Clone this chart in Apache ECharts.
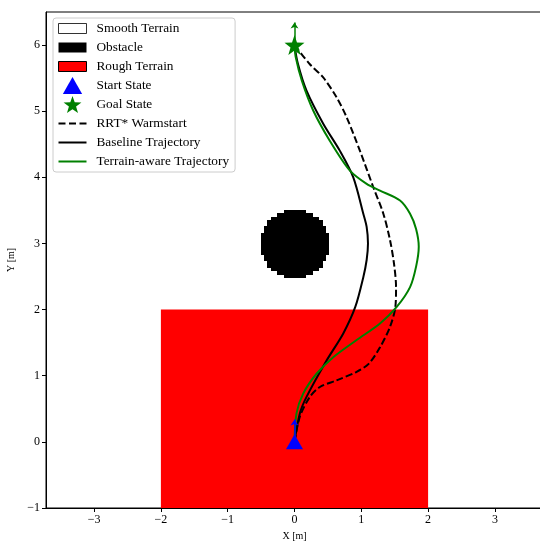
<!DOCTYPE html>
<html>
<head>
<meta charset="utf-8">
<script src="https://cdn.jsdelivr.net/npm/echarts@6/dist/echarts.min.js"></script>
<style>
  html, body { margin: 0; padding: 0; background: #fff; }
  #chart { width: 540px; height: 542px; }
</style>
</head>
<body>
<div id="chart"></div>
<script>
// axis ticks
var xTicks = [-3, -2, -1, 0, 1, 2, 3];
var yTicks = [-1, 0, 1, 2, 3, 4, 5, 6];

// map elements
var roughTerrain = [-2, -1, 2, 2]; // xmin, ymin, xmax, ymax
var obstacleCenter = [0, 3];
var obstacleRadius = 0.5;
var gridRes = 0.05;
var startState = [0, 0];
var goalState = [0, 6];
var headingLen = 0.34;

// trajectories
var rrtX = [0, 0.08, 0.23, 0.38, 0.63, 0.93, 1.11, 1.28, 1.43, 1.51, 1.52, 1.49, 1.43, 1.33, 1.18, 0.98, 0.78, 0.63, 0.43, 0.23, 0];
var rrtY = [0, 0.38, 0.68, 0.83, 0.93, 1.06, 1.18, 1.43, 1.74, 2.04, 2.34, 2.69, 3.05, 3.45, 3.85, 4.40, 4.91, 5.21, 5.51, 5.71, 6.0];
var baseX = [0, 0.08, 0.18, 0.48, 0.73, 0.91, 1.03, 1.08, 1.10, 1.08, 1.03, 0.88, 0.68, 0.43, 0.18, 0.05, 0];
var baseY = [0, 0.43, 0.68, 1.23, 1.64, 2.04, 2.49, 2.75, 3.0, 3.25, 3.45, 4.0, 4.40, 4.81, 5.31, 5.72, 6.0];
var terrX = [0, 0.03, 0.13, 0.33, 0.58, 0.93, 1.28, 1.53, 1.73, 1.82, 1.86, 1.82, 1.73, 1.58, 1.28, 1.08, 0.83, 0.53, 0.28, 0.11, 0.02, 0];
var terrY = [0, 0.43, 0.73, 1.03, 1.28, 1.54, 1.79, 2.04, 2.34, 2.65, 2.95, 3.22, 3.45, 3.65, 3.80, 3.90, 4.10, 4.55, 5.01, 5.46, 5.81, 6.0];

function zip(xs, ys) {
  return xs.map(function (x, i) { return [x, ys[i]]; });
}

// occupancy cells of the round obstacle
var obstacleCells = [];
var n = Math.ceil(obstacleRadius / gridRes);
for (var i = -n; i < n; i++) {
  for (var j = -n; j < n; j++) {
    var cx = (i + 0.5) * gridRes, cy = (j + 0.5) * gridRes;
    if (cx * cx + cy * cy <= obstacleRadius * obstacleRadius) {
      obstacleCells.push([obstacleCenter[0] + i * gridRes, obstacleCenter[1] + j * gridRes]);
    }
  }
}

var serif = 'Liberation Serif';
var star = 'path://M0,-10L2.35,-3.24L9.51,-3.09L3.8,1.24L5.88,8.09L0,4L-5.88,8.09L-3.8,1.24L-9.51,-3.09L-2.35,-3.24Z';
var tri = 'path://M0,0L8.5,-15L17,0Z';
var box = 'path://M0,0h28v10h-28z';
var solid = 'path://M0,0h28v2h-28z';
var dashed = 'path://M0,0h7v2h-7zM10.5,0h7v2h-7zM21,0h7v2h-7z';
var minus = function (v) { return String(v).replace('-', '\u2212'); };

var chart = echarts.init(document.getElementById('chart'), null, { renderer: 'canvas' });
chart.setOption({
  animation: false,
  backgroundColor: '#fff',
  grid: {
    left: 46, top: 12, right: -3, bottom: 34,
    containLabel: false, outerBoundsMode: 'none',
    show: true, borderColor: '#000', borderWidth: 1
  },
  xAxis: {
    type: 'value', min: -3.72, max: 3.72,
    name: 'X [m]', nameLocation: 'middle', nameGap: 23,
    nameTextStyle: { fontFamily: serif, fontSize: 10, color: '#000' },
    axisLine: { onZero: false, lineStyle: { color: '#000' } },
    axisTick: { show: true, inside: false, length: 4, customValues: xTicks, lineStyle: { color: '#000' } },
    axisLabel: { customValues: xTicks, formatter: minus, fontFamily: serif, fontSize: 12, color: '#000', margin: 6 },
    splitLine: { show: false }
  },
  yAxis: {
    type: 'value', min: -1, max: 6.5,
    name: 'Y [m]', nameLocation: 'middle', nameGap: 27,
    nameTextStyle: { fontFamily: serif, fontSize: 10, color: '#000' },
    axisLine: { show: true, onZero: false, lineStyle: { color: '#000' } },
    axisTick: { show: true, inside: false, length: 4, customValues: yTicks, lineStyle: { color: '#000' } },
    axisLabel: { customValues: yTicks, formatter: minus, fontFamily: serif, fontSize: 12, color: '#000', margin: 6 },
    splitLine: { show: false }
  },
  legend: {
    orient: 'vertical', left: 53, top: 18,
    itemWidth: 28, itemHeight: 17, itemGap: 2,
    padding: [2, 6, 2, 5],
    borderColor: '#ccc', borderWidth: 1, borderRadius: 3,
    backgroundColor: 'rgba(255,255,255,0.8)',
    textStyle: { fontFamily: serif, fontSize: 13.3, lineHeight: 17, color: '#000', padding: [0, 0, 0, 5] },
    data: [
      { name: 'Smooth Terrain', icon: box, itemStyle: { color: '#fff', borderColor: '#000', borderWidth: 1 } },
      { name: 'Obstacle', icon: box, itemStyle: { color: '#000' } },
      { name: 'Rough Terrain', icon: box, itemStyle: { color: '#f00', borderColor: '#000', borderWidth: 1 } },
      { name: 'Start State', icon: tri, itemStyle: { color: '#00f' } },
      { name: 'Goal State', icon: star, itemStyle: { color: '#008000' } },
      { name: 'RRT* Warmstart', icon: dashed, itemStyle: { color: '#000' } },
      { name: 'Baseline Trajectory', icon: solid, itemStyle: { color: '#000' } },
      { name: 'Terrain-aware Trajectory', icon: solid, itemStyle: { color: '#008000' } }
    ]
  },
  series: [
    { name: 'Smooth Terrain', type: 'scatter', data: [] },
    {
      name: 'Rough Terrain', type: 'custom', z: 1,
      itemStyle: { color: '#f00' },
      data: [roughTerrain],
      renderItem: function (params, api) {
        var p0 = api.coord([api.value(0), api.value(3)]);
        var p1 = api.coord([api.value(2), api.value(1)]);
        return {
          type: 'rect',
          shape: { x: p0[0], y: p0[1], width: p1[0] - p0[0], height: p1[1] - p0[1] },
          style: { fill: '#f00' }
        };
      },
      clip: true
    },
    {
      name: 'Obstacle', type: 'custom', z: 2,
      itemStyle: { color: '#000' },
      data: obstacleCells,
      renderItem: function (params, api) {
        var p0 = api.coord([api.value(0), api.value(1) + gridRes]);
        var p1 = api.coord([api.value(0) + gridRes, api.value(1)]);
        var x = Math.floor(p0[0]), y = Math.floor(p0[1]);
        return {
          type: 'rect',
          shape: { x: x, y: y, width: Math.ceil(p1[0]) - x + 1, height: Math.ceil(p1[1]) - y + 1 },
          style: { fill: '#000' }
        };
      }
    },
    {
      name: 'RRT* Warmstart', type: 'line', z: 3, data: zip(rrtX, rrtY),
      showSymbol: false, symbol: 'none', smooth: 0.3,
      itemStyle: { color: '#000' },
      lineStyle: { color: '#000', width: 2, type: [7, 3] }
    },
    {
      name: 'Baseline Trajectory', type: 'line', z: 3, data: zip(baseX, baseY),
      showSymbol: false, symbol: 'none', smooth: 0.3,
      itemStyle: { color: '#000' },
      lineStyle: { color: '#000', width: 2 }
    },
    {
      name: 'Terrain-aware Trajectory', type: 'line', z: 3, data: zip(terrX, terrY),
      showSymbol: false, symbol: 'none', smooth: 0.3,
      itemStyle: { color: '#008000' },
      lineStyle: { color: '#008000', width: 2 }
    },
    {
      name: 'Start State', type: 'scatter', z: 4, data: [startState],
      symbol: 'triangle', symbolSize: [17, 15],
      itemStyle: { color: '#00f', opacity: 1 }
    },
    {
      name: 'Goal State', type: 'scatter', z: 4, data: [goalState],
      symbol: star, symbolSize: 20,
      itemStyle: { color: '#008000', opacity: 1 }
    },
    {
      type: 'lines', coordinateSystem: 'cartesian2d', z: 5,
      symbol: ['none', 'arrow'], symbolSize: 6,
      data: [
        { coords: [startState, [startState[0], startState[1] + headingLen]], lineStyle: { color: '#00f' } },
        { coords: [goalState, [goalState[0], goalState[1] + headingLen]], lineStyle: { color: '#008000' } }
      ],
      lineStyle: { width: 1.5, opacity: 1 }
    }
  ]
});
</script>
</body>
</html>
